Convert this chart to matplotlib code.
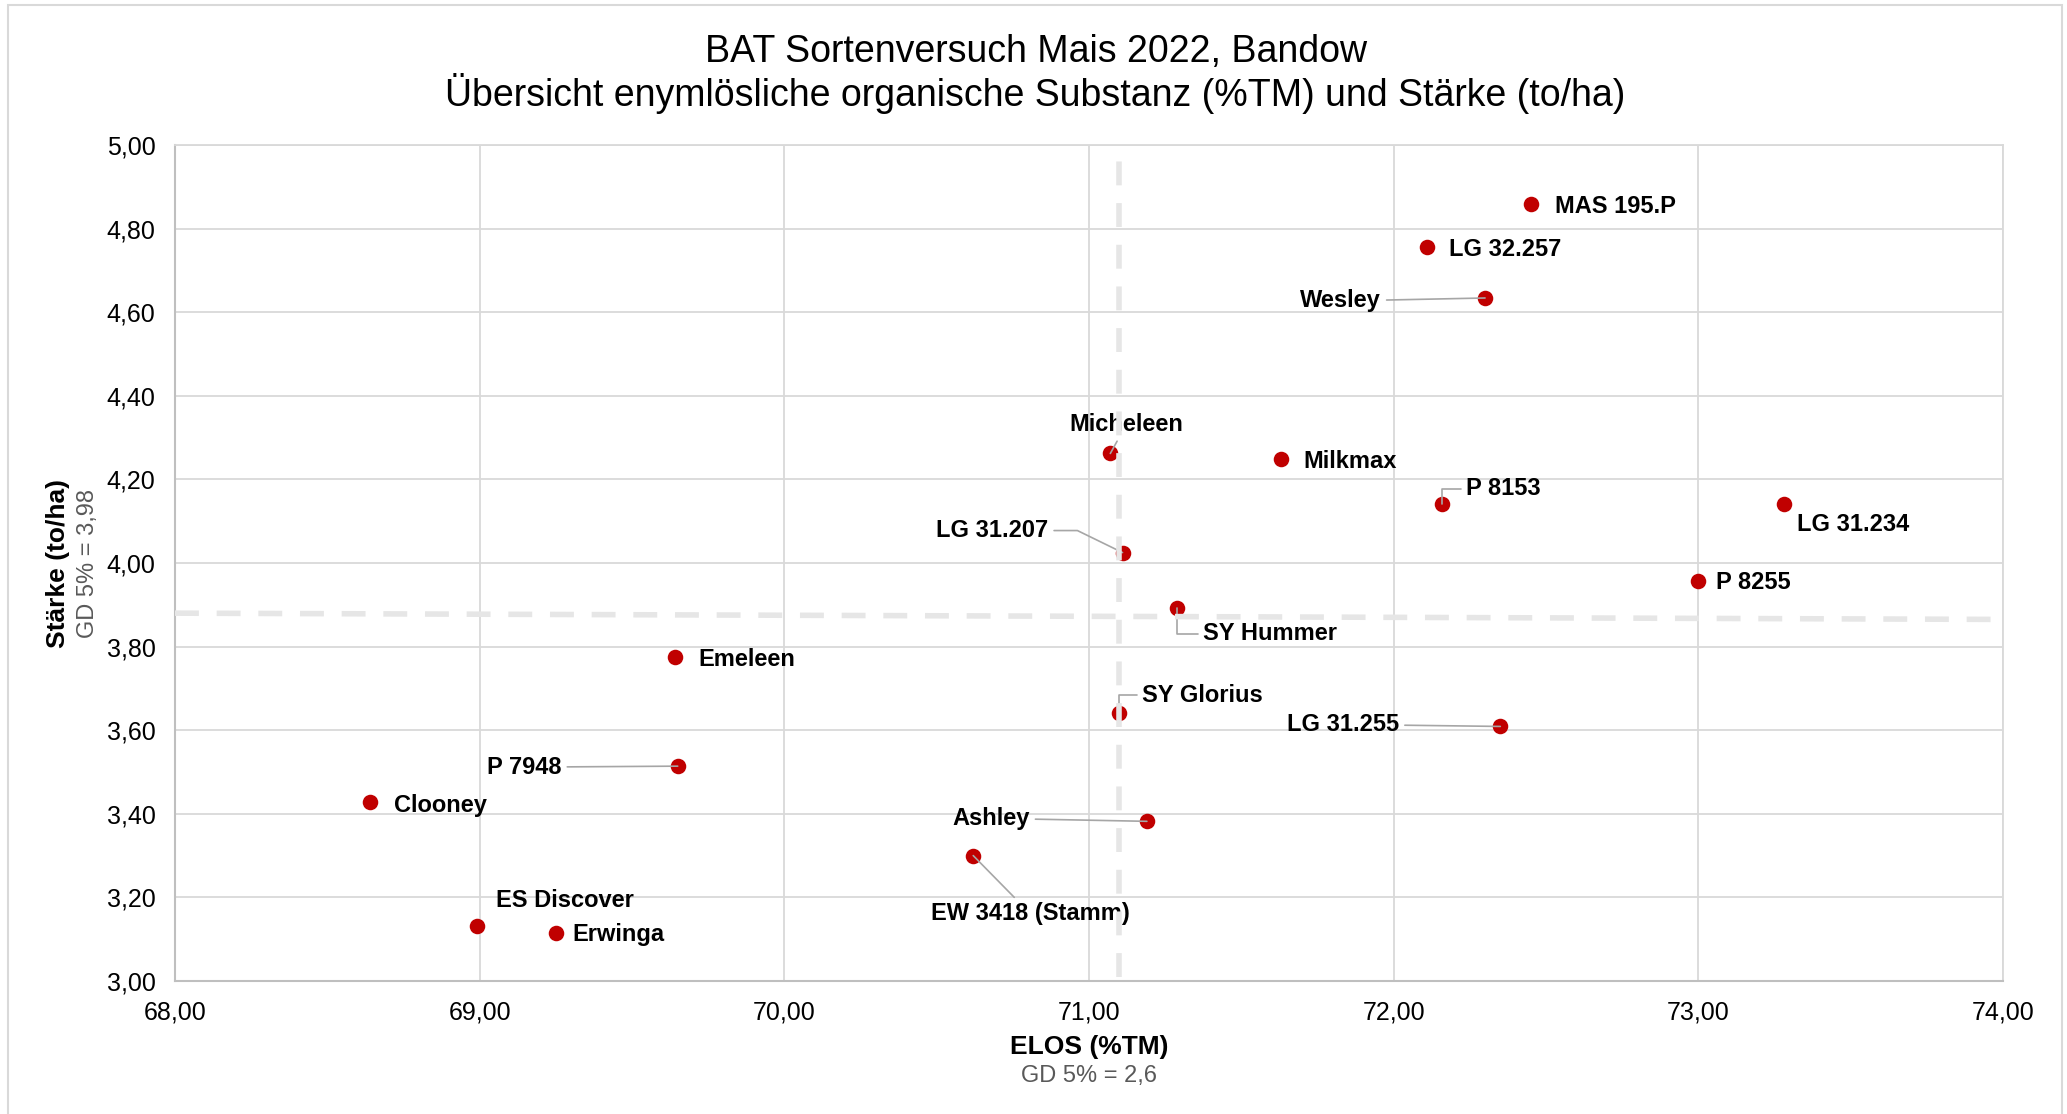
#!/usr/bin/env python3
import matplotlib
matplotlib.use("Agg")
import matplotlib.pyplot as plt
from matplotlib.patches import Rectangle
from matplotlib.ticker import FuncFormatter, MultipleLocator

# Sortenversuch data: ELOS (%TM) vs Stärke (to/ha)
sorten = [
    "MAS 195.P", "LG 32.257", "Wesley", "Micheleen", "Milkmax", "P 8153",
    "LG 31.234", "LG 31.207", "P 8255", "SY Hummer", "Emeleen", "SY Glorius",
    "LG 31.255", "P 7948", "Clooney", "Ashley", "EW 3418 (Stamm)",
    "ES Discover", "Erwinga",
]
elos = [
    72.45, 72.11, 72.30, 71.07, 71.63, 72.16,
    73.28, 71.11, 73.00, 71.29, 69.64, 71.10,
    72.35, 69.65, 68.64, 71.19, 70.62,
    68.99, 69.25,
]
staerke = [
    4.86, 4.757, 4.634, 4.262, 4.249, 4.142,
    4.142, 4.025, 3.956, 3.893, 3.776, 3.640,
    3.609, 3.514, 3.429, 3.382, 3.300,
    3.132, 3.114,
]

# reference lines (means)
ref_elos = 71.10
ref_elos_span = [3.01, 4.97]
ref_staerke_x = [68.0, 74.0]
ref_staerke_y = [3.88, 3.865]

PX = 72 / 100  # pixel -> points at dpi 100

# label placement: (dx px, dy px, ha, connection style or None)
label_style = {
    "MAS 195.P": (24, 0, "left", None),
    "LG 32.257": (22, 0, "left", None),
    "Wesley": (-104, 0, "right", "arc3"),
    "Micheleen": (16, 32, "center", "arc3"),
    "Milkmax": (22, 0, "left", None),
    "P 8153": (24, 18, "left", "angle,angleA=0,angleB=90,rad=0"),
    "LG 31.234": (13, -18, "left", None),
    "LG 31.207": (-74, 25, "right", "angle,angleA=0,angleB=154,rad=0"),
    "P 8255": (18, 2, "left", None),
    "SY Hummer": (26, -23, "left", "angle,angleA=0,angleB=90,rad=0"),
    "Emeleen": (24, 0, "left", None),
    "SY Glorius": (23, 21, "left", "angle,angleA=0,angleB=90,rad=0"),
    "LG 31.255": (-101, 5, "right", "arc3"),
    "P 7948": (-116, 2, "right", "arc3"),
    "Clooney": (24, -1, "left", None),
    "Ashley": (-117, 6, "right", "arc3"),
    "EW 3418 (Stamm)": (57, -55, "center", "arc3"),
    "ES Discover": (19, 28, "left", None),
    "Erwinga": (17, 2, "left", None),
}


def comma_fmt(v, _pos):
    return f"{v:.2f}".replace(".", ",")


def main() -> None:
    plt.rcParams["font.family"] = ["Liberation Sans", "DejaVu Sans"]

    fig = plt.figure(figsize=(20.67, 11.14), dpi=100)
    ax = fig.add_axes([175 / 2067, 1 - 981 / 1114, (2003 - 175) / 2067, (981 - 145) / 1114])

    ax.set_xlim(68, 74)
    ax.set_ylim(3.0, 5.0)
    ax.xaxis.set_major_locator(MultipleLocator(1.0))
    ax.yaxis.set_major_locator(MultipleLocator(0.2))
    ax.xaxis.set_major_formatter(FuncFormatter(comma_fmt))
    ax.yaxis.set_major_formatter(FuncFormatter(comma_fmt))
    ax.tick_params(axis="both", length=0, labelsize=18, colors="#000000")
    ax.tick_params(axis="y", pad=14)
    ax.tick_params(axis="x", pad=14)

    ax.grid(True, color="#d9d9d9", lw=1.3)
    ax.set_axisbelow(True)
    for side in ["top", "right"]:
        ax.spines[side].set_color("#d9d9d9")
        ax.spines[side].set_linewidth(1.3)
    for side in ["left", "bottom"]:
        ax.spines[side].set_color("#bfbfbf")
        ax.spines[side].set_linewidth(1.5)

    ax.scatter(elos, staerke, s=125, color="#c00000", zorder=3, linewidths=0)

    for name, x, y in zip(sorten, elos, staerke):
        dx, dy, ha, conn = label_style[name]
        arrow = None
        if conn is not None:
            arrow = dict(arrowstyle="-", color="#a6a6a6", lw=1.2, connectionstyle=conn,
                         shrinkA=2, shrinkB=0)
        ax.annotate(name, (x, y), xytext=(dx * PX, (dy - 3) * PX), textcoords="offset points",
                    ha=ha, va="center", fontsize=17, fontweight="bold", color="#000000",
                    arrowprops=arrow, zorder=4)

    # mean lines, drawn on top like in the original
    ax.plot([ref_elos, ref_elos], ref_elos_span, color="#e6e6e6", lw=4,
            dashes=(4.3, 3.2), zorder=6, solid_capstyle="butt", clip_on=False)
    ax.plot(ref_staerke_x, ref_staerke_y, color="#e6e6e6", lw=4,
            dashes=(4.3, 3.2), zorder=6, clip_on=False)

    fig.text(0.501, 0.953, "BAT Sortenversuch Mais 2022, Bandow", ha="center", va="center",
             fontsize=27, color="#000000")
    fig.text(0.501, 0.916, "Übersicht enymlösliche organische Substanz (%TM) und Stärke (to/ha)",
             ha="center", va="center", fontsize=27, color="#000000")

    fig.text(1089 / 2067, 1 - 1047 / 1114, "ELOS (%TM)", ha="center", va="center",
             fontsize=19, fontweight="bold")
    fig.text(1089 / 2067, 1 - 1076 / 1114, "GD 5% = 2,6", ha="center", va="center",
             fontsize=17, color="#595959")
    fig.text(58 / 2067, 1 - 563 / 1114, "Stärke (to/ha)", ha="center", va="center",
             rotation=90, fontsize=19, fontweight="bold")
    fig.text(88 / 2067, 1 - 563 / 1114, "GD 5% = 3,98", ha="center", va="center",
             rotation=90, fontsize=17, color="#595959")

    fig.add_artist(Rectangle((8 / 2067, -0.01), (2062 - 8) / 2067, 1 - 5 / 1114 + 0.01,
                             transform=fig.transFigure, fill=False, ec="#d9d9d9", lw=1.5))

    fig.savefig("out.png", dpi=100)
    plt.close(fig)


if __name__ == "__main__":
    main()
